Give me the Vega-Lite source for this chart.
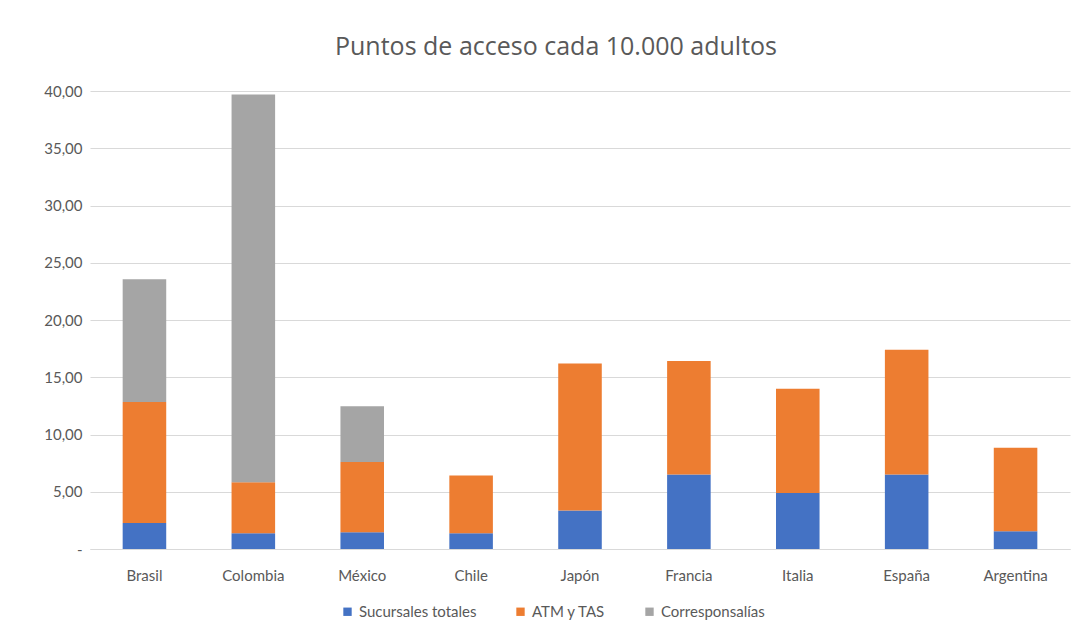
{
  "$schema": "https://vega.github.io/schema/vega-lite/v6.json",
  "autosize": "none",
  "width": 980,
  "height": 458,
  "padding": {"left": 90, "top": 91, "right": 19, "bottom": 89},
  "background": "white",
  "config": {"view": {"stroke": null}, "font": "Lato"},
  "title": {"text": "Puntos de acceso cada 10.000 adultos", "fontSize": 25, "fontWeight": "normal", "color": "#595959", "anchor": "middle", "offset": 24, "dx": -24, "font": "Open Sans"},
  "data": {"values": [
    {"pais": "Brasil", "serie": "Sucursales totales", "o": 1, "v": 2.26},
    {"pais": "Brasil", "serie": "ATM y TAS", "o": 2, "v": 10.57},
    {"pais": "Brasil", "serie": "Corresponsalías", "o": 3, "v": 10.73},
    {"pais": "Colombia", "serie": "Sucursales totales", "o": 1, "v": 1.38},
    {"pais": "Colombia", "serie": "ATM y TAS", "o": 2, "v": 4.46},
    {"pais": "Colombia", "serie": "Corresponsalías", "o": 3, "v": 33.86},
    {"pais": "México", "serie": "Sucursales totales", "o": 1, "v": 1.47},
    {"pais": "México", "serie": "ATM y TAS", "o": 2, "v": 6.12},
    {"pais": "México", "serie": "Corresponsalías", "o": 3, "v": 4.87},
    {"pais": "Chile", "serie": "Sucursales totales", "o": 1, "v": 1.38},
    {"pais": "Chile", "serie": "ATM y TAS", "o": 2, "v": 5.04},
    {"pais": "Japón", "serie": "Sucursales totales", "o": 1, "v": 3.37},
    {"pais": "Japón", "serie": "ATM y TAS", "o": 2, "v": 12.82},
    {"pais": "Francia", "serie": "Sucursales totales", "o": 1, "v": 6.51},
    {"pais": "Francia", "serie": "ATM y TAS", "o": 2, "v": 9.91},
    {"pais": "Italia", "serie": "Sucursales totales", "o": 1, "v": 4.88},
    {"pais": "Italia", "serie": "ATM y TAS", "o": 2, "v": 9.12},
    {"pais": "España", "serie": "Sucursales totales", "o": 1, "v": 6.51},
    {"pais": "España", "serie": "ATM y TAS", "o": 2, "v": 10.9},
    {"pais": "Argentina", "serie": "Sucursales totales", "o": 1, "v": 1.56},
    {"pais": "Argentina", "serie": "ATM y TAS", "o": 2, "v": 7.29}
  ]},
  "mark": {"type": "bar"},
  "encoding": {
    "x": {
      "field": "pais", "type": "nominal",
      "sort": ["Brasil", "Colombia", "México", "Chile", "Japón", "Francia", "Italia", "España", "Argentina"],
      "scale": {"paddingInner": 0.6, "paddingOuter": 0.3},
      "axis": {"title": null, "labelAngle": 0, "ticks": false, "domainColor": "#d9d9d9", "labelColor": "#595959", "labelFontSize": 15, "labelPadding": 19}
    },
    "y": {
      "field": "v", "type": "quantitative", "stack": "zero",
      "scale": {"domain": [0, 40], "nice": false},
      "axis": {"title": null, "values": [0, 5, 10, 15, 20, 25, 30, 35, 40], "labelExpr": "datum.value == 0 ? '-' : replace(format(datum.value, '.2f'), '.', ',')", "ticks": false, "domain": false, "gridColor": "#d9d9d9", "labelColor": "#595959", "labelFontSize": 15, "labelPadding": 8}
    },
    "color": {
      "field": "serie", "type": "nominal",
      "sort": ["Sucursales totales", "ATM y TAS", "Corresponsalías"],
      "scale": {"domain": ["Sucursales totales", "ATM y TAS", "Corresponsalías"], "range": ["#4472C4", "#ED7D31", "#A5A5A5"]},
      "legend": {"title": null, "orient": "none", "legendX": 250, "legendY": 513, "direction": "horizontal", "symbolType": "square", "symbolSize": 70, "labelColor": "#595959", "labelFontSize": 15, "columnPadding": 36}
    },
    "order": {"field": "o", "type": "quantitative"}
  }
}
